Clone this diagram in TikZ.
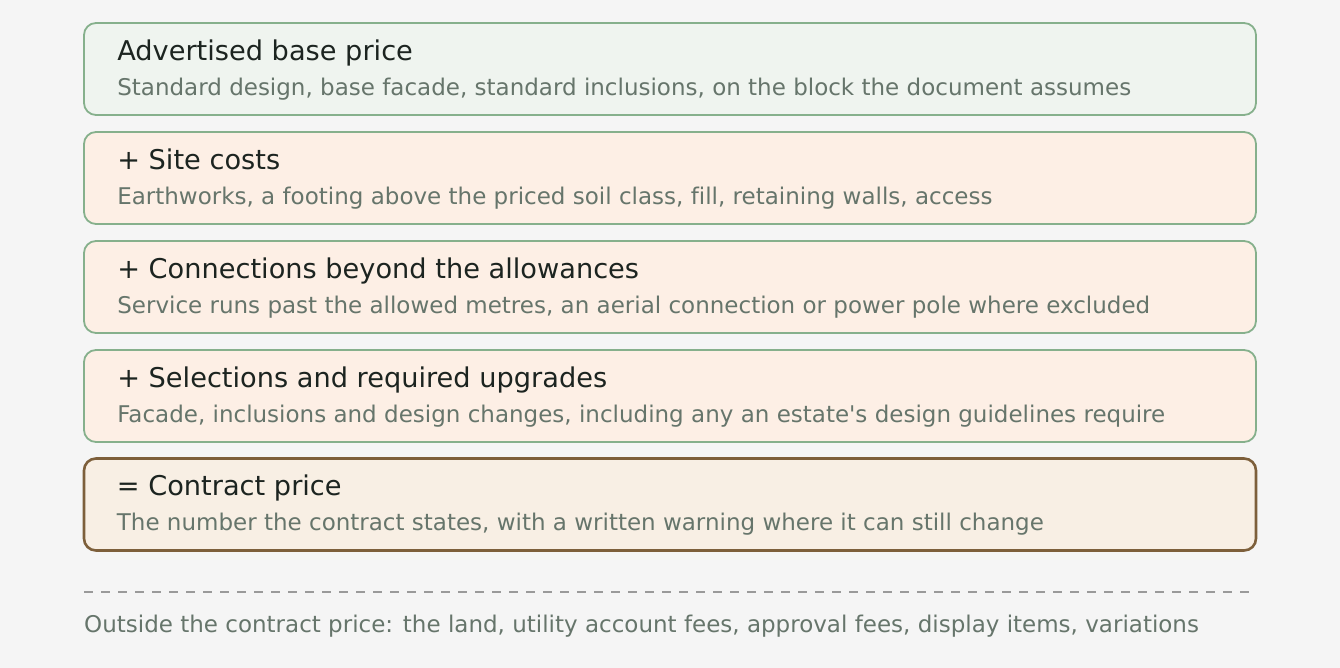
\documentclass[tikz,border=0pt]{standalone}
\usepackage{fontspec}
\setmainfont{DejaVu Sans}[Ligatures=CommonOff]
\definecolor{pagebg}{HTML}{F5F5F5}
\definecolor{basefill}{HTML}{EFF4EF}
\definecolor{addfill}{HTML}{FDEFE5}
\definecolor{sumfill}{HTML}{F8EFE4}
\definecolor{greenline}{HTML}{86B08C}
\definecolor{brownline}{HTML}{7D5F3B}
\definecolor{headtext}{HTML}{1C2420}
\definecolor{subtext}{HTML}{66756B}
\definecolor{dashgrey}{HTML}{9A9A9A}
\tikzset{
  stagebox/.style={draw=greenline,line width=1.8pt,rounded corners=12pt,
    minimum width=1172pt,minimum height=92pt,inner sep=0pt},
  headline/.style={anchor=base west,inner sep=0pt,text=headtext,
    font=\fontsize{27.2}{31}\selectfont},
  subline/.style={anchor=base west,inner sep=0pt,text=subtext,
    font=\fontsize{23}{27}\selectfont}
}
\begin{document}
\begin{tikzpicture}[x=1pt,y=1pt]
  \fill[pagebg] (0,0) rectangle (1340,668);
  \useasboundingbox (0,0) rectangle (1340,668);

  \node[stagebox,fill=basefill] (base) at (670,599) {};
  \node[headline] (baseT) at ([xshift=34pt,yshift=-38pt]base.north west) {Advertised base price};
  \node[subline] (baseS) at ([xshift=34pt,yshift=-73pt]base.north west) {Standard design, base facade, standard inclusions, on the block the document assumes};

  \node[stagebox,fill=addfill] (site) at (670,490) {};
  \node[headline] (siteT) at ([xshift=34pt,yshift=-38pt]site.north west) {+ Site costs};
  \node[subline] (siteS) at ([xshift=34pt,yshift=-73pt]site.north west) {Earthworks, a footing above the priced soil class, fill, retaining walls, access};

  \node[stagebox,fill=addfill] (conn) at (670,381) {};
  \node[headline] (connT) at ([xshift=34pt,yshift=-38pt]conn.north west) {+ Connections beyond the allowances};
  \node[subline] (connS) at ([xshift=34pt,yshift=-73pt]conn.north west) {Service runs past the allowed metres, an aerial connection or power pole where excluded};

  \node[stagebox,fill=addfill] (sel) at (670,272) {};
  \node[headline] (selT) at ([xshift=34pt,yshift=-38pt]sel.north west) {+ Selections and required upgrades};
  \node[subline] (selS) at ([xshift=34pt,yshift=-73pt]sel.north west) {Facade, inclusions and design changes, including any an estate\textquotesingle s design guidelines require};

  \node[stagebox,fill=sumfill,draw=brownline,line width=2.6pt] (contract) at (670,163.5) {};
  \node[headline] (contractT) at ([xshift=34pt,yshift=-38pt]contract.north west) {= Contract price};
  \node[subline] (contractS) at ([xshift=34pt,yshift=-73pt]contract.north west) {The number the contract states, with a written warning where it can still change};

  % outside the sum
  \coordinate (dashL) at (84,76);
  \coordinate (dashR) at (1250,76);
  \draw[dashgrey,line width=1.3pt,dash pattern=on 9pt off 8pt] (dashL) -- (dashR);
  \node[subline] (outside) at (84,35) {Outside the contract price: the land, utility account fees, approval fees, display items, variations};
\end{tikzpicture}
\end{document}
